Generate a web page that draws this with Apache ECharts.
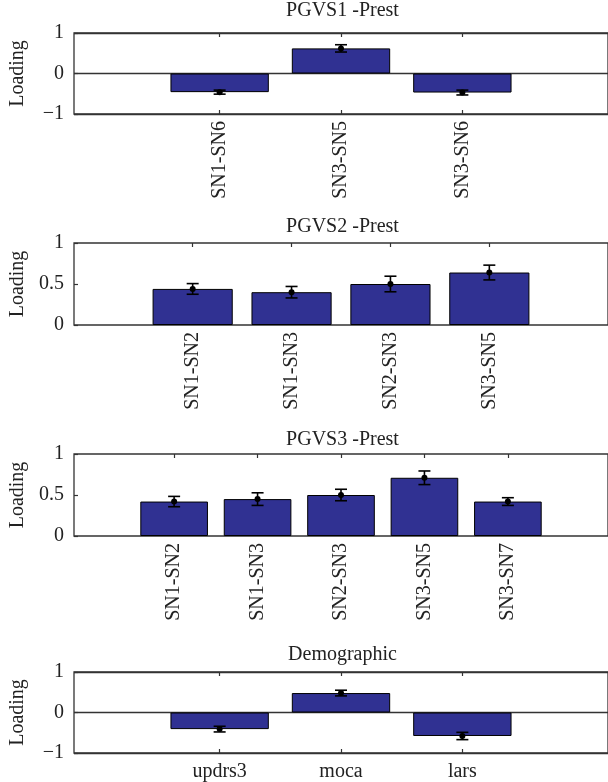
<!DOCTYPE html>
<html>
<head>
<meta charset="utf-8">
<script src="https://cdn.jsdelivr.net/npm/echarts@6/dist/echarts.min.js"></script>
<style>
  html, body { margin: 0; padding: 0; background: #fff; }
  #chart { width: 608px; height: 782px; }
</style>
</head>
<body>
<div id="chart"></div>
<script>
  // loadings, with their error bar half-widths
  const cats1 = ['SN1-SN6', 'SN3-SN5', 'SN3-SN6']
  const load1 = [-0.46, 0.62, -0.47]
  const err1 = [0.05, 0.09, 0.06]

  const cats2 = ['SN1-SN2', 'SN1-SN3', 'SN2-SN3', 'SN3-SN5']
  const load2 = [0.44, 0.40, 0.50, 0.64]
  const err2 = [0.065, 0.07, 0.095, 0.09]

  const cats3 = ['SN1-SN2', 'SN1-SN3', 'SN2-SN3', 'SN3-SN5', 'SN3-SN7']
  const load3 = [0.42, 0.45, 0.50, 0.71, 0.42]
  const err3 = [0.063, 0.077, 0.07, 0.083, 0.047]

  const cats4 = ['updrs3', 'moca', 'lars']
  const load4 = [-0.41, 0.48, -0.58]
  const err4 = [0.07, 0.07, 0.09]

  const titles = ['PGVS1 -Prest', 'PGVS2 -Prest', 'PGVS3 -Prest', 'Demographic']
  const yTicks1 = [-1, 0, 1]
  const yTicks2 = [0, 0.5, 1]

  const FONT = '"Liberation Serif", "DejaVu Serif", serif'
  const FS = 20
  const AXIS = '#333'
  const LEFT = 72
  const RIGHT_EDGE = 613

  const panels = [
    { cats: cats1, vals: load1, errs: err1, ticks: yTicks1, top: 33, height: 81, rotate: 90, titleY: 12 },
    { cats: cats2, vals: load2, errs: err2, ticks: yTicks2, top: 243, height: 82, rotate: 90, titleY: 228 },
    { cats: cats3, vals: load3, errs: err3, ticks: yTicks2, top: 454, height: 82, rotate: 90, titleY: 441 },
    { cats: cats4, vals: load4, errs: err4, ticks: yTicks1, top: 672, height: 81, rotate: 0, titleY: 656 }
  ]

  const chart = echarts.init(document.getElementById('chart'))

  const grid = []
  const xAxis = []
  const yAxis = []
  const series = []
  const title = []

  panels.forEach((p, k) => {
    const n = p.cats.length
    const xMin = -0.2
    const xMax = n + 1.2
    const unit = (RIGHT_EDGE - LEFT) / (xMax - xMin)
    const pos = p.cats.map((c, i) => i + 1)
    const hasNeg = p.ticks[0] < 0

    grid.push({
      left: LEFT,
      right: 608 - RIGHT_EDGE,
      top: p.top,
      height: p.height,
      show: true,
      borderColor: AXIS,
      borderWidth: 1.3,
      backgroundColor: 'transparent'
    })

    title.push({
      text: titles[k],
      left: (LEFT + RIGHT_EDGE) / 2,
      top: p.titleY - FS / 2 - 1,
      textAlign: 'center',
      padding: 0,
      textStyle: { fontFamily: FONT, fontSize: FS, fontWeight: 'normal', color: '#222' }
    })

    xAxis.push({
      type: 'value',
      gridIndex: k,
      min: xMin,
      max: xMax,
      axisLine: { show: false, onZero: false },
      splitLine: { show: false },
      axisTick: {
        inside: true,
        length: 4,
        customValues: pos,
        lineStyle: { color: AXIS, width: 1.2 }
      },
      axisLabel: {
        customValues: pos,
        rotate: p.rotate,
        margin: p.rotate ? 7 : 9,
        fontFamily: FONT,
        fontSize: FS,
        color: '#222',
        formatter: v => p.cats[Math.round(v) - 1] || ''
      }
    })
    xAxis.push({
      type: 'value',
      gridIndex: k,
      position: 'top',
      min: xMin,
      max: xMax,
      axisLine: { show: false, onZero: false },
      splitLine: { show: false },
      axisLabel: { show: false },
      axisTick: {
        inside: true,
        length: 4,
        customValues: pos,
        lineStyle: { color: AXIS, width: 1.2 }
      }
    })

    yAxis.push({
      type: 'value',
      gridIndex: k,
      min: p.ticks[0],
      max: p.ticks[2],
      interval: p.ticks[1] - p.ticks[0],
      name: 'Loading',
      nameLocation: 'middle',
      nameRotate: 90,
      nameGap: 46,
      nameTextStyle: { fontFamily: FONT, fontSize: FS, color: '#222' },
      axisLine: { show: false, onZero: false },
      axisTick: { show: true, inside: true, length: 4, lineStyle: { color: AXIS, width: 1.2 } },
      splitLine: { show: hasNeg, lineStyle: { color: AXIS, width: 1.3 } },
      axisLabel: {
        margin: 10,
        fontFamily: FONT,
        fontSize: FS,
        color: '#222',
        formatter: v => String(v).replace('-', '\u2212')
      }
    })

    series.push({
      type: 'bar',
      xAxisIndex: 2 * k,
      yAxisIndex: k,
      barWidth: 0.8 * unit,
      itemStyle: { color: '#303192', borderColor: '#000', borderWidth: 1 },
      data: p.vals.map((v, i) => [pos[i], v])
    })

    series.push({
      type: 'custom',
      xAxisIndex: 2 * k,
      yAxisIndex: k,
      z: 5,
      encode: { x: 0, y: 1 },
      renderItem(params, api) {
        const x = api.value(0)
        const v = api.value(1)
        const e = api.value(2)
        const hi = api.coord([x, v + e])
        const lo = api.coord([x, v - e])
        const mid = api.coord([x, v])
        const cw = 6
        const st = { stroke: '#000', lineWidth: 1.6 }
        return {
          type: 'group',
          children: [
            { type: 'line', shape: { x1: hi[0], y1: hi[1], x2: lo[0], y2: lo[1] }, style: st },
            { type: 'line', shape: { x1: hi[0] - cw, y1: hi[1], x2: hi[0] + cw, y2: hi[1] }, style: st },
            { type: 'line', shape: { x1: lo[0] - cw, y1: lo[1], x2: lo[0] + cw, y2: lo[1] }, style: st },
            { type: 'circle', shape: { cx: mid[0], cy: mid[1], r: 3 }, style: { fill: '#000' } }
          ]
        }
      },
      data: p.vals.map((v, i) => [pos[i], v, p.errs[i]])
    })
  })

  chart.setOption({
    backgroundColor: '#fff',
    animation: false,
    title: title,
    grid: grid,
    xAxis: xAxis,
    yAxis: yAxis,
    series: series
  })
</script>
</body>
</html>
